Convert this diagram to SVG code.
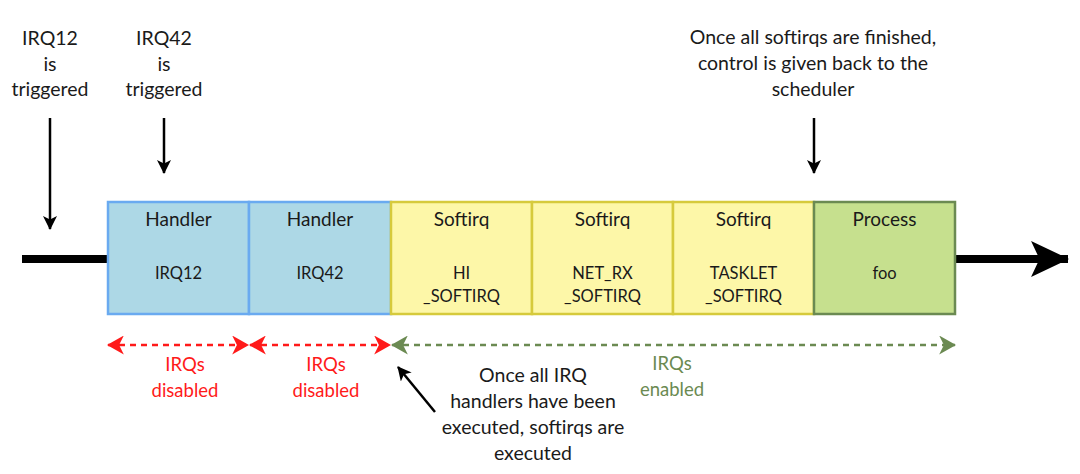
<svg xmlns="http://www.w3.org/2000/svg" width="1080" height="474" viewBox="0 0 1080 474">
<defs>
<marker id="ah" viewBox="0 0 14 14" refX="13" refY="7" markerWidth="14" markerHeight="14" markerUnits="userSpaceOnUse" orient="auto-start-reverse">
<path d="M0,0 L14,7 L0,14 L3.5,7 Z" fill="#000"/>
</marker>
<marker id="big" viewBox="0 0 36 36" refX="35" refY="18" markerWidth="38" markerHeight="38" markerUnits="userSpaceOnUse" orient="auto">
<path d="M0,1 L36,18 L0,35 L8,18 Z" fill="#000"/>
</marker>
<marker id="red" viewBox="0 0 16 18" refX="15" refY="9" markerWidth="17" markerHeight="19" markerUnits="userSpaceOnUse" orient="auto-start-reverse">
<path d="M0,0 L16,9 L0,18 L4.5,9 Z" fill="#ff1a1a"/>
</marker>
<marker id="grn" viewBox="0 0 16 18" refX="15" refY="9" markerWidth="17" markerHeight="19" markerUnits="userSpaceOnUse" orient="auto-start-reverse">
<path d="M0,0 L16,9 L0,18 L4.5,9 Z" fill="#6b8a52"/>
</marker>
</defs>
<style>
text{font-family:Lato,"Liberation Sans",sans-serif;text-anchor:middle;fill:#1a1a1a}
.t{font-size:19.5px}
.h{font-size:19px}
.s{font-size:16.5px}
.blue{fill:#add8e6;stroke:#6aaaf0;stroke-width:2.5}
.yel{fill:#fdf7a8;stroke:#d6ca3c;stroke-width:2.5}
.gr{fill:#c6e08e;stroke:#6b8a52;stroke-width:2.5}
.ar{stroke:#000;stroke-width:2.5;fill:none}
.rd{stroke:#ff1a1a;stroke-width:2.5;stroke-dasharray:6 5;fill:none}
.gd{stroke:#6b8a52;stroke-width:2.5;stroke-dasharray:6 5;fill:none}
.rt{fill:#ff1a1a;font-size:18.5px}
.gt{fill:#6b8a52;font-size:18.5px}
</style>
<g id="connectors">
<line x1="22" y1="259" x2="108" y2="259" stroke="#000" stroke-width="8"/>
<line x1="955" y1="259" x2="1068" y2="259" stroke="#000" stroke-width="8" marker-end="url(#big)"/>
<line class="ar" x1="50" y1="118" x2="50" y2="229" marker-end="url(#ah)"/>
<line class="ar" x1="164" y1="118" x2="164" y2="173" marker-end="url(#ah)"/>
<line class="ar" x1="814" y1="118" x2="814" y2="173" marker-end="url(#ah)"/>
<line class="ar" x1="435" y1="412" x2="398" y2="367" marker-end="url(#ah)"/>
<line class="rd" x1="108" y1="345" x2="248" y2="345" marker-start="url(#red)" marker-end="url(#red)"/>
<line class="rd" x1="250" y1="345" x2="390" y2="345" marker-start="url(#red)" marker-end="url(#red)"/>
<line class="gd" x1="392" y1="345" x2="955" y2="345" marker-start="url(#grn)" marker-end="url(#grn)"/>
</g>
<g id="node-irq12">
<rect class="blue" x="108" y="202" width="141" height="112"/>
<text class="h" x="178.5" y="226">Handler</text>
<text class="s" x="178.5" y="279">IRQ12</text>
</g>
<g id="node-irq42">
<rect class="blue" x="249" y="202" width="142" height="112"/>
<text class="h" x="320" y="226">Handler</text>
<text class="s" x="320" y="279">IRQ42</text>
</g>
<g id="node-hi">
<rect class="yel" x="391" y="202" width="141" height="112"/>
<text class="h" x="461.5" y="226">Softirq</text>
<text class="s" x="461.5" y="279">HI</text>
<text class="s" x="461.5" y="302">_SOFTIRQ</text>
</g>
<g id="node-netrx">
<rect class="yel" x="532" y="202" width="141" height="112"/>
<text class="h" x="602.5" y="226">Softirq</text>
<text class="s" x="602.5" y="279">NET_RX</text>
<text class="s" x="602.5" y="302">_SOFTIRQ</text>
</g>
<g id="node-tasklet">
<rect class="yel" x="673" y="202" width="141" height="112"/>
<text class="h" x="743.5" y="226">Softirq</text>
<text class="s" x="743.5" y="279">TASKLET</text>
<text class="s" x="743.5" y="302">_SOFTIRQ</text>
</g>
<g id="node-process">
<rect class="gr" x="814" y="202" width="141" height="112"/>
<text class="h" x="884.5" y="226">Process</text>
<text class="s" x="884.5" y="279">foo</text>
</g>
<g id="label-irq12">
<text class="t" x="50" y="45">IRQ12</text>
<text class="t" x="50" y="71">is</text>
<text class="t" x="50" y="96">triggered</text>
</g>
<g id="label-irq42">
<text class="t" x="164" y="45">IRQ42</text>
<text class="t" x="164" y="71">is</text>
<text class="t" x="164" y="96">triggered</text>
</g>
<g id="label-scheduler">
<text class="t" x="813" y="44">Once all softirqs are finished,</text>
<text class="t" x="813" y="70">control is given back to the</text>
<text class="t" x="813" y="96">scheduler</text>
</g>
<g id="label-disabled1">
<text class="rt" x="185" y="371">IRQs</text>
<text class="rt" x="185" y="397">disabled</text>
</g>
<g id="label-disabled2">
<text class="rt" x="326" y="371">IRQs</text>
<text class="rt" x="326" y="397">disabled</text>
</g>
<g id="label-enabled">
<text class="gt" x="672" y="370">IRQs</text>
<text class="gt" x="672" y="396">enabled</text>
</g>
<g id="label-handlers">
<text class="t" x="533" y="382">Once all IRQ</text>
<text class="t" x="533" y="408">handlers have been</text>
<text class="t" x="533" y="434">executed, softirqs are</text>
<text class="t" x="533" y="460">executed</text>
</g>
</svg>
